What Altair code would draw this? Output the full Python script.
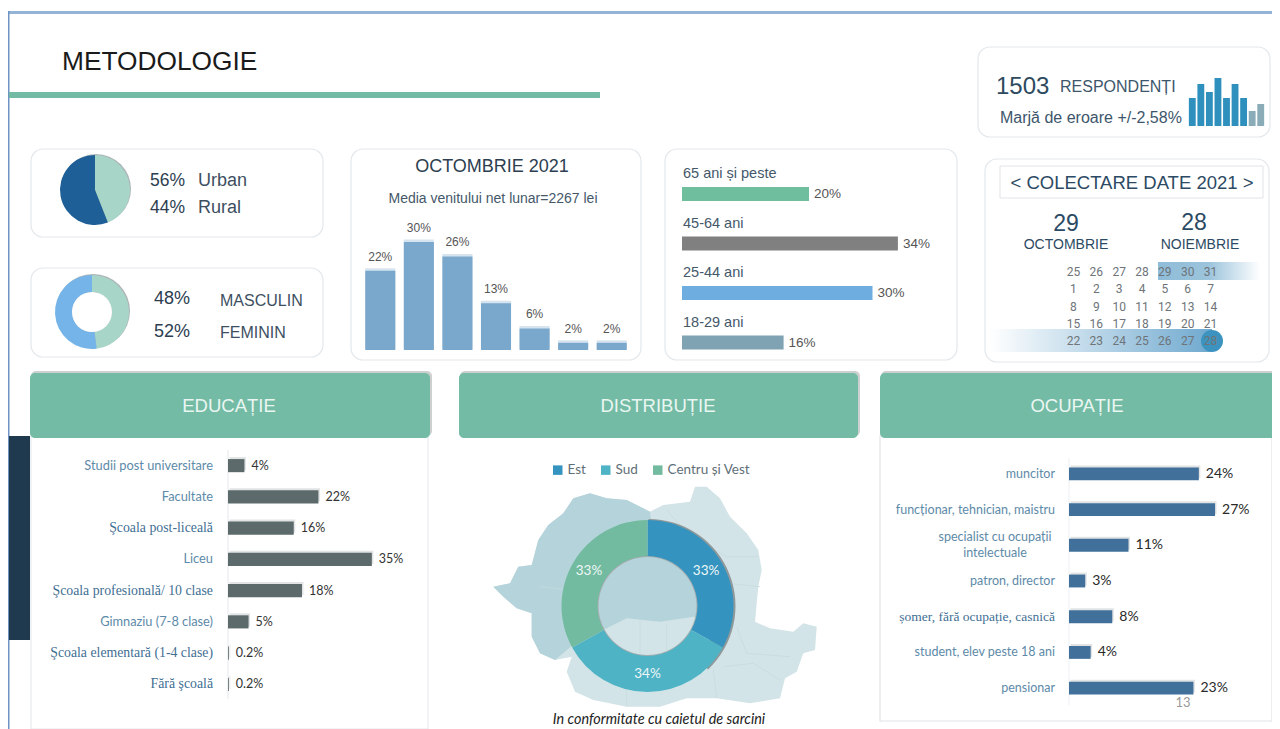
import altair as alt

# ---------- data ----------
edu_cats = ["Studii post universitare", "Facultate", "Şcoala post-liceală", "Liceu",
            "Şcoala profesională/ 10 clase", "Gimnaziu (7-8 clase)",
            "Şcoala elementară (1-4 clase)", "Fără şcoală"]
edu_vals = [4, 22, 16, 35, 18, 5, 0.2, 0.2]
edu_labels = ["4%", "22%", "16%", "35%", "18%", "5%", "0.2%", "0.2%"]
edu_serif = ["Şcoala post-liceală", "Şcoala profesională/ 10 clase",
             "Şcoala elementară (1-4 clase)", "Fără şcoală"]

occ_cats = ["muncitor", "funcționar, tehnician, maistru", "specialist cu ocupații\nintelectuale",
            "patron, director", "șomer, fără ocupație, casnică", "student, elev peste 18 ani", "pensionar"]
occ_vals = [24, 27, 11, 3, 8, 4, 23]
occ_labels = ["24%", "27%", "11%", "3%", "8%", "4%", "23%"]
occ_serif = ["șomer, fără ocupație, casnică"]

income_cats = ["a", "b", "c", "d", "e", "f", "g"]
income_vals = [22, 30, 26, 13, 6, 2, 2]

age_cats = ["65 ani și peste", "45-64 ani", "25-44 ani", "18-29 ani"]
age_vals = [20, 34, 30, 16]
age_colors = ["#6fbf9f", "#808080", "#6dade0", "#7fa3b3"]

mini_cats = list("abcdefghi")
mini_vals = [28, 42, 34, 48, 28, 42, 28, 15, 22]
mini_colors = ["#2f8fbd"] * 7 + ["#8aabb8"] * 2

region_cats = ["Est", "Sud", "Centru și Vest"]
region_vals = [33, 34, 33]
region_colors = ["#3594bf", "#4fb3c6", "#72bba0"]

area_cats = ["Rural", "Urban"]
area_vals = [44, 56]
area_colors = ["#a7d6c8", "#1d5f96"]

gender_cats = ["Masculin", "Feminin"]
gender_vals = [48, 52]
gender_colors = ["#a7d6c8", "#74b4e8"]

cal_rows = [[25, 26, 27, 28, 29, 30, 31], [1, 2, 3, 4, 5, 6, 7], [8, 9, 10, 11, 12, 13, 14],
            [15, 16, 17, 18, 19, 20, 21], [22, 23, 24, 25, 26, 27, 28]]

# map outline (shape geometry of the background, px relative to its anchor)
map_all = [(100,650),(150,640),(175,590),(215,585),(235,510),(265,465),(310,430),(340,385),(390,370),
           (440,385),(500,390),(570,425),(610,405),(690,395),(705,350),(740,350),(780,385),(810,440),
           (860,490),(895,540),(905,600),(895,650),(890,700),(885,755),(930,775),(1000,785),(1030,760),
           (1070,770),(1065,840),(1030,850),(1010,905),(975,925),(960,985),(870,1000),(770,985),(680,985),
           (600,1010),(500,1010),(400,990),(345,965),(320,905),(335,860),(285,870),(240,850),(215,800),
           (215,730),(170,715),(130,680)]
map_dark = [(100,650),(150,640),(175,590),(215,585),(235,510),(265,465),(310,430),(340,385),(390,370),
            (440,385),(500,390),(570,425),(575,470),(660,490),(750,650),(720,745),(700,740),(600,755),(500,745),(440,775),
            (345,820),(285,870),(240,850),(215,800),(215,730),(170,715),(130,680)]
map_lines = [[(620,420),(690,500),(800,560),(895,560)], [(700,620),(800,640),(900,650)],
             [(830,770),(860,850),(990,860)], [(790,890),(880,880),(960,930)],
             [(540,750),(540,850)], [(620,760),(620,840)], [(500,960),(500,1010)], [(760,900),(770,985)],
             [(240,650),(330,660)]]

# ---------- helpers (x, y are pixels of the 1280x729 page) ----------
OX, OY = 8, 8
SANS = "Liberation Sans"
LABEL = "Lato"
SERIF = "Liberation Serif"
GREEN = "#73bba4"
one = alt.Data(values=[{}])


def px(v):
    return alt.value(v - OX)


def py(v):
    return alt.value(v - OY)


def box(x0, y0, x1, y1, fill="white", stroke=None, radius=0, width=1.2, opacity=1):
    kw = {"cornerRadius": radius, "opacity": opacity}
    if stroke:
        kw.update(stroke=stroke, strokeWidth=width)
    return alt.Chart(one).mark_rect(fill=fill, **kw).encode(
        x=px(x0), x2=px(x1), y=py(y0), y2=py(y1))


def txt(s, x, y, size, color="#2c3e50", font=SANS, align="left", **kw):
    return alt.Chart(alt.Data(values=[{"t": s}])).mark_text(
        align=align, baseline="middle", fontSize=size, color=color, font=font, **kw
    ).encode(x=px(x), y=py(y + 1), text="t:N")


def hbars(cats, vals, labels, serif, x0, per, y0, y1, color, pi, lab_x, lab_size, val_size, dx,
          val_color="#333333", val_weight="normal", lab_color="#5d8aa8", lab_font=LABEL, serif_size=13.5):
    rows = [{"c": c, "v": v, "l": l} for c, v, l in zip(cats, vals, labels)]
    d = alt.Data(values=rows)
    xs = alt.Scale(domain=[0, 100], range=[x0 - OX, x0 - OX + per * 100])
    ys = alt.Scale(domain=cats, range=[y0 - OY, y1 - OY], paddingInner=pi, paddingOuter=pi / 2)
    X = alt.X("v:Q", scale=xs, axis=None)
    Y = alt.Y("c:N", scale=ys, axis=None, sort=None)
    out = [
        alt.Chart(d).mark_bar(color="#9aa3a6", opacity=0.3, xOffset=1.5, yOffset=-2).encode(x=X, y=Y),
        alt.Chart(d).mark_bar(color=color).encode(x=X, y=Y),
        alt.Chart(d).mark_text(align="left", baseline="middle", dx=dx, fontSize=val_size, font=LABEL,
                               color=val_color, fontWeight=val_weight).encode(x=X, y=Y, text="l:N"),
    ]
    single = [r for r in rows if r["c"] not in serif and "\n" not in r["c"]]
    multi = [r for r in rows if "\n" in r["c"]]
    fancy = [r for r in rows if r["c"] in serif]
    out.append(alt.Chart(alt.Data(values=single)).mark_text(
        align="right", baseline="middle", fontSize=lab_size, font=lab_font, color=lab_color
    ).encode(x=px(lab_x), y=Y, text="c:N"))
    if multi:
        out.append(alt.Chart(alt.Data(values=multi)).mark_text(
            align="center", baseline="middle", fontSize=lab_size, font=lab_font, color=lab_color,
            lineBreak="\n", lineHeight=16, dy=-8).encode(x=px(lab_x - 60), y=Y, text="c:N"))
    if fancy:
        out.append(alt.Chart(alt.Data(values=fancy)).mark_text(
            align="right", baseline="middle", fontSize=serif_size, font=SERIF, color="#3f6f93"
        ).encode(x=px(lab_x), y=Y, text="c:N"))
    return out


def ring(cats, vals, colors, cx, cy, outer, inner=0, legend=None, stroke=None):
    d = alt.Data(values=[{"c": c, "v": v, "i": i} for i, (c, v) in enumerate(zip(cats, vals))])
    kw = {"outerRadius": outer, "innerRadius": inner}
    if stroke:
        kw.update(stroke=stroke, strokeWidth=1)
    return alt.Chart(d).mark_arc(**kw).encode(
        x=px(cx), y=py(cy),
        theta=alt.Theta("v:Q", stack=True, scale=alt.Scale(domain=[0, 100])),
        order=alt.Order("i:Q"),
        color=alt.Color("c:N", scale=alt.Scale(domain=cats, range=colors), legend=legend),
    )


def shape_path(pts, ax, ay, close=True):
    seg = ["%.1f,%.1f" % (460 + a / 3 - ax, 370 + b / 3 - ay) for a, b in pts]
    return "M" + " L".join(seg) + (" Z" if close else "")


def blob(path, x, y, fill=None, stroke=None):
    kw = {"shape": path, "size": 4, "opacity": 1}
    if fill:
        kw.update(filled=True, fill=fill, strokeWidth=0)
    else:
        kw.update(filled=False, stroke=stroke, strokeWidth=0.8)
    return alt.Chart(one).mark_point(**kw).encode(x=px(x), y=py(y))


def disc(cx, cy, r, color="#9aa3a6", opacity=0.8):
    return alt.Chart(one).mark_circle(size=4 * r * r, color=color, opacity=opacity).encode(
        x=px(cx), y=py(cy))


def header(x0, y0, x1, y1, title, cx, size=18.5):
    return [
        box(x0 + 1, y0 - 2, x1 + 2, y1 - 2, fill="#b9bcbc", radius=5, opacity=0.7),
        box(x0, y0, x1, y1, fill=GREEN, radius=5),
        txt(title, cx, (y0 + y1) / 2 - 1, size, color="#eaf6f2", font=SANS, align="center"),
    ]


CARD = "#e3e8ec"
layers = []

# ---------- frame ----------
layers += [
    box(8, 11, 1280, 14, fill="#93b4d6"),
    box(8, 11, 9.5, 729, fill="#6f94c4"),
    box(9, 436, 30, 640, fill="#1f3a4f"),
    txt("METODOLOGIE", 62, 61, 26.3, color="#1a1a1a"),
    box(9, 92, 600, 98, fill=GREEN),
]

# ---------- respondents ----------
mini = alt.Data(values=[{"c": c, "v": v} for c, v in zip(mini_cats, mini_vals)])
layers += [
    box(978, 47, 1270, 137, stroke=CARD, radius=12),
    txt("1503", 996, 86, 24, color="#2d4a5f"),
    txt("RESPONDENȚI", 1060, 86, 16, color="#3d566b"),
    txt("Marjă de eroare +/-2,58%", 1000, 117, 16, color="#3d566b"),
    alt.Chart(mini).mark_bar().encode(
        x=alt.X("c:N", axis=None, sort=None,
                scale=alt.Scale(domain=mini_cats, range=[1188 - OX, 1265 - OX], paddingInner=0.2, paddingOuter=0.1)),
        y=alt.Y("v:Q", axis=None, scale=alt.Scale(domain=[0, 48], range=[126 - OY, 78 - OY])),
        color=alt.Color("c:N", legend=None, scale=alt.Scale(domain=mini_cats, range=mini_colors)),
    ),
]

# ---------- urban / rural ----------
layers += [
    box(31, 149, 323, 237, stroke=CARD, radius=12),
    disc(96, 189, 35),
    ring(area_cats, area_vals, area_colors, 95, 190, 35),
    txt("56%", 150, 180, 17.5),
    txt("Urban", 198, 180, 18, color="#3d4f5f"),
    txt("44%", 150, 207, 17.5),
    txt("Rural", 198, 207, 18, color="#3d4f5f"),
]

# ---------- gender ----------
layers += [
    box(31, 268, 323, 357, stroke=CARD, radius=12),
    disc(93, 311, 37),
    ring(gender_cats, gender_vals, gender_colors, 92, 312, 37, 20),
    disc(92, 312, 20, color="white", opacity=1),
    txt("48%", 154, 298, 18),
    txt("MASCULIN", 220, 300, 16, color="#3d4f5f"),
    txt("52%", 154, 331, 18),
    txt("FEMININ", 220, 332, 16, color="#3d4f5f"),
]

# ---------- income ----------
inc = alt.Data(values=[{"c": c, "v": v, "l": "%d%%" % v} for c, v in zip(income_cats, income_vals)])
inc_x = alt.X("c:N", axis=None, sort=None,
              scale=alt.Scale(domain=income_cats, range=[361 - OX, 631 - OX], paddingInner=0.22, paddingOuter=0.11))
inc_y = alt.Y("v:Q", axis=None, scale=alt.Scale(domain=[0, 30], range=[350 - OY, 242 - OY]))
layers += [
    box(351, 149, 641, 360, stroke=CARD, radius=12),
    txt("OCTOMBRIE 2021", 492, 166, 18, color="#2c3e50", align="center"),
    txt("Media venitului net lunar=2267 lei", 493, 198, 14, color="#44586a", align="center"),
    alt.Chart(inc).mark_bar(color="#c5d9e8", opacity=0.7, yOffset=-2.5).encode(x=inc_x, y=inc_y),
    alt.Chart(inc).mark_bar(color="#7aa7cc").encode(x=inc_x, y=inc_y),
    alt.Chart(inc).mark_text(baseline="middle", dy=-14, fontSize=12, font=SANS, color="#555555").encode(
        x=inc_x, y=inc_y, text="l:N"),
]

# ---------- age ----------
age = alt.Data(values=[{"c": c, "v": v, "l": "%d%%" % v} for c, v in zip(age_cats, age_vals)])
age_xs = alt.X("v:Q", axis=None, scale=alt.Scale(domain=[0, 100], range=[682 - OX, 682 - OX + 635]))
age_ys = alt.Y("c:N", axis=None, sort=None,
               scale=alt.Scale(domain=age_cats, range=[169.25 - OY, 367.25 - OY], paddingInner=0.72, paddingOuter=0.36))
layers += [
    box(665, 149, 957, 360, stroke=CARD, radius=12),
    alt.Chart(age).mark_bar().encode(
        x=age_xs, y=age_ys,
        color=alt.Color("c:N", legend=None, scale=alt.Scale(domain=age_cats, range=age_colors))),
    alt.Chart(age).mark_text(align="left", baseline="middle", dx=5, fontSize=13.5, font=SANS, color="#555555").encode(
        x=age_xs, y=age_ys, text="l:N"),
    alt.Chart(age).mark_text(align="left", baseline="middle", dy=-20, fontSize=14.5, font=SANS, color="#44586a").encode(
        x=px(683), y=age_ys, text="c:N"),
]

# ---------- calendar ----------
cal = alt.Data(values=[{"d": d, "r": "r%d" % r, "k": "k%d" % k}
                       for r, row in enumerate(cal_rows) for k, d in enumerate(row)])
fade_r = alt.Gradient(gradient="linear", x1=0, x2=1, y1=0, y2=0,
                      stops=[alt.GradientStop(offset=0, color="#8fbcd8"), alt.GradientStop(offset=0.5, color="#9cc4dc"),
                             alt.GradientStop(offset=1, color="#ffffff")])
fade_l = alt.Gradient(gradient="linear", x1=0, x2=1, y1=0, y2=0,
                      stops=[alt.GradientStop(offset=0, color="#ffffff"), alt.GradientStop(offset=1, color="#6fa9cf")])
layers += [
    box(985, 159, 1269, 362, stroke=CARD, radius=12),
    box(1000, 166, 1263, 198, stroke="#dfe3e6", width=1),
    txt("< COLECTARE DATE 2021 >", 1132, 182, 18.5, color="#2c4a63", align="center"),
    txt("29", 1066, 223, 23, color="#2c4a63", align="center"),
    txt("28", 1194, 222, 23, color="#2c4a63", align="center"),
    txt("OCTOMBRIE", 1066, 244, 14, color="#2c4a63", align="center"),
    txt("NOIEMBRIE", 1200, 244, 14, color="#2c4a63", align="center"),
    alt.Chart(one).mark_rect(color=fade_r).encode(x=px(1158), x2=px(1260), y=py(262), y2=py(280)),
    alt.Chart(one).mark_rect(color=fade_l).encode(x=px(990), x2=px(1212), y=py(329), y2=py(352)),
    disc(1212, 341, 11, color="#3d93bf", opacity=1),
    alt.Chart(cal).mark_text(baseline="middle", fontSize=12, font="Roboto", color="#6e7479").encode(
        x=alt.X("k:N", axis=None, scale=alt.Scale(domain=["k%d" % i for i in range(7)], range=[1062 - OX, 1222 - OX])),
        y=alt.Y("r:N", axis=None, scale=alt.Scale(domain=["r%d" % i for i in range(5)], range=[263 - OY, 350 - OY])),
        text="d:N"),
]

# ---------- education ----------
layers += [box(31, 436, 428, 729, stroke="#e6e9ec", radius=0)]
layers += header(30, 373, 430, 438, "EDUCAȚIE", 229)
layers += [box(227.5, 450, 228.5, 699, fill="#e4e7ea")]
layers += hbars(edu_cats, edu_vals, edu_labels, edu_serif, 228, 4.11, 450, 700, "#5c6a6b", 0.58,
                213, 12.8, 12.5, 7, val_color="#333333", serif_size=13.8)

# ---------- distribution ----------
MX, MY = 655, 590
paths_lines = " ".join(shape_path(l, MX, MY, close=False) for l in map_lines)
labels = alt.Data(values=[{"c": c, "v": v, "i": i, "l": "%d%%" % v}
                          for i, (c, v) in enumerate(zip(region_cats, region_vals))])
legend = alt.Legend(orient="none", legendX=551 - OX, legendY=463 - OY, direction="horizontal", title=None,
                    symbolType="square", symbolSize=90, symbolStrokeWidth=0, labelFont=LABEL, labelFontSize=13.5,
                    labelColor="#5f6f78", columnPadding=13, labelOffset=3, padding=0)
layers += header(459, 373, 858, 438, "DISTRIBUȚIE", 658)
layers += [
    blob(shape_path(map_all, MX, MY), MX, MY, fill="#d2e4e7"),
    blob(shape_path(map_dark, MX, MY), MX, MY, fill="#b5d3da"),
    blob(paths_lines, MX, MY, stroke="#c6dade"),
    ring(["rim"], [100], ["#a4aeb0"], 647.5, 606, 51, 49),
    ring(["edge", "rest"], [38, 62], ["#8f989a", "#ffffff00"], 648.5, 606, 87, 70),
    ring(region_cats, region_vals, region_colors, 647.5, 606, 86, 50, legend=legend),
    alt.Chart(labels).mark_text(radius=68, fontSize=13.5, font=LABEL, color="#eef7f7", baseline="middle").encode(
        x=px(647.5), y=py(606),
        theta=alt.Theta("v:Q", stack=True, scale=alt.Scale(domain=[0, 100])),
        order=alt.Order("i:Q"), text="l:N"),
    txt("In conformitate cu caietul de sarcini", 659, 719, 14.4, color="#222222", font=LABEL,
        align="center", fontStyle="italic"),
]

# ---------- occupation ----------
layers += [box(880, 436, 1272, 721, stroke="#e0e3e6", radius=0)]
layers += header(880, 373, 1279, 438, "OCUPAȚIE", 1077)
layers += [box(1068.5, 458, 1069.5, 705, fill="#eceff1")]
layers += hbars(occ_cats, occ_vals, occ_labels, occ_serif, 1069, 5.41, 456, 706, "#41709a", 0.64,
                1055, 12.5, 14, 7, val_color="#2a2a2a", serif_size=13.5)
layers += [txt("13", 1183, 702, 13, color="#9a9a9a", align="center", font=LABEL)]

chart = alt.layer(*layers).resolve_scale(
    x="independent", y="independent", color="independent", theta="independent"
).properties(width=1264, height=721, padding=0, autosize="none", background="white").configure_view(stroke=None)

chart.save("out.html", embed_options={"renderer": "svg", "actions": False})
